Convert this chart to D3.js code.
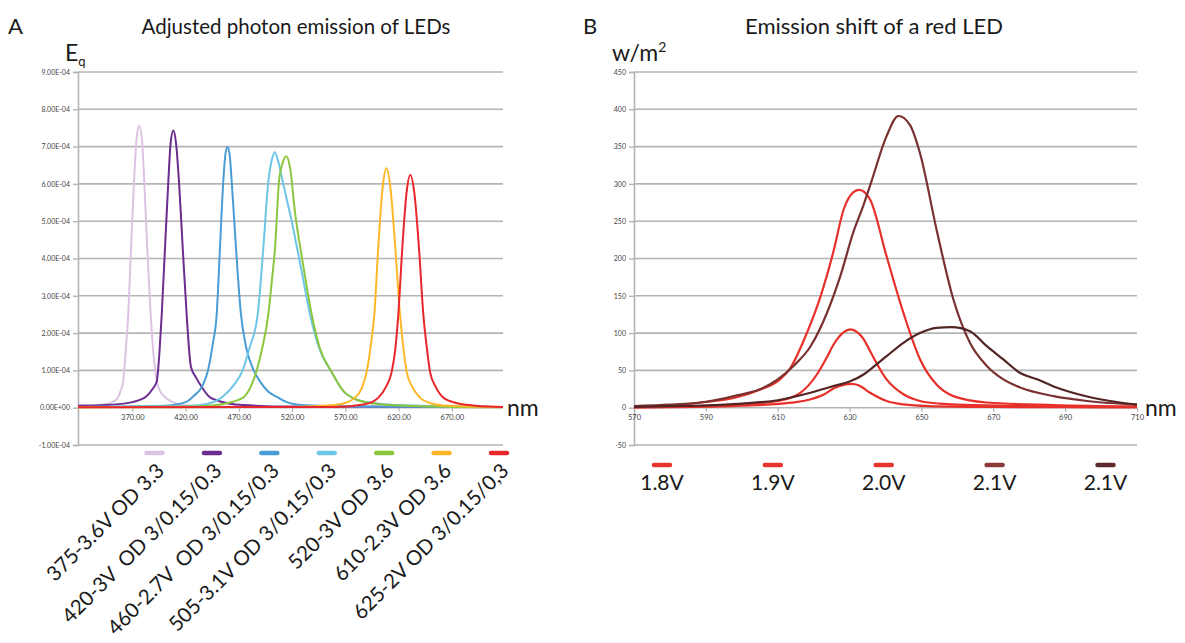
<!DOCTYPE html>
<meta charset="utf-8">
<title>LED emission</title>
<style>
  body { margin: 0; background: #fff; }
  text { font-family: Lato, "Open Sans", sans-serif; fill: #1a1a1a; }
  .tick text { fill: #444; }
</style>
<svg width="1185" height="643"></svg>
<script src="https://d3js.org/d3.v7.min.js"></script>
<script>

// ---- panel A : adjusted photon emission (values in units of 1E-04) ----
var ledLabels = ["375-3.6V OD 3.3", "420-3V  OD 3/0.15/0.3", "460-2.7V  OD 3/0.15/0.3",
                 "505-3.1V OD 3/0.15/0.3", "520-3V OD 3.6", "610-2.3V OD 3.6", "625-2V OD 3/0.15/0,3"];
var ledColors = ["#dcc3e3", "#6b2d8f", "#4a9dd4", "#6ec6e6", "#8cc63f", "#fdb728", "#e8262b"];

var led375 = [[319,0.07],[335,0.07],[345,0.09],[351,0.15],[356,0.25],[359,0.45],[361.5,0.71],[364,1.6],[366.2,2.5],[368.8,4.29],[371.6,6.07],[374,7.2],[376.5,7.56],[379,7.2],[381.2,6.07],[384,4.29],[387.2,2.5],[390,1.4],[392.9,0.71],[396,0.45],[400,0.3],[408,0.15],[417,0.07],[450,0.03],[550,0.02],[718,0.02]];
var led420 = [[319,0.05],[350,0.08],[370,0.15],[383,0.3],[389,0.5],[393,0.71],[395.5,1.5],[397.6,2.5],[400.7,4.29],[403.8,6.07],[406,7.1],[408.5,7.43],[411,7.1],[413.8,6.07],[417.3,4.29],[421,2.5],[425,1.1],[430,0.8],[436,0.52],[442,0.3],[449,0.2],[474,0.07],[520,0.03],[718,0.02]];
var led460 = [[319,0.02],[400,0.05],[420,0.15],[427,0.3],[436,0.6],[441,1.0],[445.5,1.7],[449.2,2.5],[452.3,4.29],[455.4,6.07],[457.4,6.8],[459.3,6.99],[461.3,6.8],[463.3,6.07],[467.3,4.29],[472,2.5],[477,1.6],[484,1.0],[490,0.7],[497,0.45],[505,0.3],[515,0.15],[530,0.07],[570,0.03],[718,0.02]];
var led505 = [[319,0.02],[420,0.04],[440,0.1],[455,0.3],[465,0.6],[473.6,1.0],[480,1.6],[487.7,2.5],[493,4.29],[497.7,6.07],[501,6.65],[503.7,6.85],[507,6.6],[511.7,6.0],[519.6,5.0],[529,3.65],[536.8,2.5],[546,1.55],[557,0.96],[568,0.45],[580,0.22],[595,0.13],[620,0.07],[660,0.04],[718,0.02]];
var led520 = [[319,0.01],[430,0.03],[455,0.1],[474,0.27],[481,0.55],[486.8,1.0],[492,1.6],[497.7,2.5],[501,3.4],[504,4.29],[507.7,6.07],[511,6.55],[514.5,6.74],[518,6.45],[522.7,5.25],[530.5,3.8],[538.4,2.5],[546,1.6],[557,0.96],[568,0.45],[580,0.22],[600,0.1],[640,0.04],[718,0.01]];
var led610 = [[319,0.01],[520,0.02],[560,0.07],[572,0.15],[579,0.27],[585,0.5],[590,0.96],[594,1.7],[597.2,2.5],[600.9,4.29],[605,5.9],[608.6,6.42],[612.3,5.9],[616.9,4.29],[621.3,2.5],[624.5,1.6],[627.6,0.96],[633,0.55],[640,0.27],[650,0.12],[662,0.06],[690,0.03],[718,0.02]];
var led625 = [[319,0.01],[560,0.02],[585,0.08],[595,0.15],[601,0.27],[608,0.55],[613.5,0.96],[617,1.6],[619.7,2.5],[623.5,4.29],[627.4,5.75],[631,6.24],[634.8,5.75],[639.1,4.29],[643.2,2.5],[646.5,1.6],[649.5,0.96],[655,0.55],[662,0.27],[675,0.12],[690,0.06],[703,0.03],[718,0.02]];
var ledSeries = [led375, led420, led460, led505, led520, led610, led625];

var ticksA = [-1, 0, 1, 2, 3, 4, 5, 6, 7, 8, 9];
var nmTicksA = [370, 420, 470, 520, 570, 620, 670];

// ---- panel B : red LED at several voltages (w/m2) ----
var voltLabels = ["1.8V", "1.9V", "2.0V", "2.1V", "2.1V"];
var voltColors = ["#e8302a", "#e8302a", "#e8302a", "#7a3131", "#532424"];
var legendColorsB = ["#e8352c", "#e8352c", "#e8352c", "#8c3b3b", "#5d2b2b"];

var red18 = [[570,0.5],[580,0.8],[590,1.3],[600,2.8],[610,5],[615,7.5],[619,11],[623,18],[625.6,26],[628.3,30.5],[630.5,32],[632.5,30],[635.7,20],[640.3,9],[645,4.4],[652,2.2],[670,1],[690,0.6],[710,0.5]];
var red19 = [[570,0.5],[580,1],[590,2],[600,4.5],[610,9],[616.3,20],[620.9,44.5],[623.5,66],[625.6,85],[628.3,101],[630.3,105],[632.2,101],[633.9,92],[635.7,76],[640.3,38],[645,18],[649.6,9],[655,5.5],[660,4],[675,2.5],[690,1.5],[710,1]];
var red20 = [[570,1],[580,3],[590,7.6],[597.8,13],[605.2,24.5],[610,35.6],[613.5,53],[618.1,100],[621.9,149],[625.6,211],[628.3,265],[631.1,289],[632.7,292],[635.7,279],[640.3,203],[645,127],[649.6,65],[654.2,31],[658.9,15.5],[668.2,7],[686.8,3.5],[710,1.5]];
var red21a = [[570,2],[580,4],[590,8],[597.8,15.6],[605.2,25],[610,38],[614.4,56],[619.1,82],[623.7,127],[627.4,176],[631.1,236],[633.9,272],[636,302],[640.3,364],[643.6,391],[646.8,379],[649.6,341],[654.2,239],[658.9,145],[663.5,87],[668.2,56],[672.8,38],[677.5,27],[686.8,15.5],[696.1,9],[710,4]];
var red21b = [[570,1],[580,2],[590,3],[600,5.5],[610,10],[619.1,20],[625.6,29],[630,35],[633.9,44.5],[635.7,51],[640.3,69],[645,87],[649.6,100],[654.2,107],[658.4,108],[663.5,102.6],[668.2,82.5],[672.8,64.7],[677.5,46.5],[682.2,38],[686.8,28.5],[691.4,21],[696.1,15],[705.3,7],[710,4]];
var voltSeries = [red18, red19, red20, red21a, red21b];

var ticksB = [-50, 0, 50, 100, 150, 200, 250, 300, 350, 400, 450];
var nmTicksB = [570, 590, 610, 630, 650, 670, 690, 710];

var svg = d3.select("svg");
var gridColor = "#b4b4b4";

function drawPanel(o) {
    var g = svg.append("g");
    var x0 = o.x.range()[0], x1 = o.x.range()[1];

    // gridlines (incl. the zero line that acts as the x axis)
    g.append("g").selectAll("line")
        .data(o.yTicks)
        .enter().append("line")
        .attr("x1", x0).attr("x2", x1)
        .attr("y1", function(d) { return o.y(d); })
        .attr("y2", function(d) { return o.y(d); })
        .attr("stroke", gridColor).attr("stroke-width", 1.6);

    var ya = g.append("g")
        .attr("transform", "translate(" + x0 + ",0)")
        .call(d3.axisLeft(o.y).tickValues(o.yTicks).tickSize(5).tickPadding(3).tickFormat(o.yFormat));
    ya.select(".domain").attr("stroke", gridColor).attr("stroke-width", 1.6);
    ya.selectAll(".tick line").attr("stroke", gridColor).attr("stroke-width", 1.4);
    ya.selectAll(".tick text").style("font-size", "7px");

    var xa = g.append("g")
        .attr("transform", "translate(0," + o.y(0) + ")")
        .call(d3.axisBottom(o.x).tickValues(o.xTicks).tickSize(4).tickPadding(3).tickFormat(o.xFormat));
    xa.select(".domain").remove();
    xa.selectAll(".tick line").attr("stroke", gridColor).attr("stroke-width", 1.2);
    xa.selectAll(".tick text").style("font-size", "7.5px");

    var line = d3.line()
        .x(function(d) { return o.x(d[0]); })
        .y(function(d) { return o.y(d[1]); })
        .curve(d3.curveMonotoneX);

    g.append("g").selectAll("path")
        .data(o.series)
        .enter().append("path")
        .attr("d", line)
        .attr("fill", "none")
        .attr("stroke", function(d, i) { return o.colors[i]; })
        .attr("stroke-width", o.lineWidth);
    return g;
}

// ---------- panel A ----------
var xA = d3.scaleLinear().domain([319, 718]).range([78, 503]);
var yA = d3.scaleLinear().domain([-1, 9]).range([445, 72]);

drawPanel({
    x: xA, y: yA, yTicks: ticksA, xTicks: nmTicksA,
    yFormat: function(d) { return d === 0 ? "0.00E+00" : d.toFixed(2) + "E-04"; },
    xFormat: function(d) { return d.toFixed(2); },
    series: ledSeries, colors: ledColors, lineWidth: 2
});

svg.append("text").attr("x", 8).attr("y", 34).style("font-size", "22px").text("A");
svg.append("text").attr("x", 296).attr("y", 34).attr("text-anchor", "middle")
    .style("font-size", "20.5px").text("Adjusted photon emission of LEDs");
var eq = svg.append("text").attr("x", 65).attr("y", 61).style("font-size", "23px");
eq.append("tspan").text("E");
eq.append("tspan").attr("dy", 5).style("font-size", "13px").text("q");
svg.append("text").attr("x", 507).attr("y", 416).style("font-size", "23px").text("nm");

var legA = d3.scalePoint().domain(d3.range(ledLabels.length)).range([154.5, 499]);
svg.append("g").selectAll("line")
    .data(ledLabels)
    .enter().append("line")
    .attr("x1", function(d, i) { return legA(i) - 8; })
    .attr("x2", function(d, i) { return legA(i) + 8; })
    .attr("y1", 453).attr("y2", 453)
    .attr("stroke", function(d, i) { return ledColors[i]; })
    .attr("stroke-width", 4.5).attr("stroke-linecap", "round");
svg.append("g").selectAll("text")
    .data(ledLabels)
    .enter().append("text")
    .attr("transform", function(d, i) { return "translate(" + (legA(i) + 11) + ",472) rotate(-45)"; })
    .attr("text-anchor", "end")
    .style("white-space", "pre")
    .style("font-size", "20.5px")
    .text(function(d) { return d; });

// ---------- panel B ----------
var xB = d3.scaleLinear().domain([570, 710]).range([634, 1137]);
var yB = d3.scaleLinear().domain([-50, 450]).range([445, 72]);

drawPanel({
    x: xB, y: yB, yTicks: ticksB, xTicks: nmTicksB,
    yFormat: function(d) { return d; },
    xFormat: function(d) { return d; },
    series: voltSeries, colors: voltColors, lineWidth: 2.2
});

svg.append("text").attr("x", 583).attr("y", 34).style("font-size", "22px").text("B");
svg.append("text").attr("x", 874).attr("y", 34).attr("text-anchor", "middle")
    .style("font-size", "22px").text("Emission shift of a red LED");
var wm = svg.append("text").attr("x", 612).attr("y", 61).style("font-size", "23px");
wm.append("tspan").text("w/m");
wm.append("tspan").attr("dy", -9).style("font-size", "14px").text("2");
svg.append("text").attr("x", 1145).attr("y", 416).style("font-size", "23px").text("nm");

var legB = d3.scalePoint().domain(d3.range(voltLabels.length)).range([662, 1105.5]);
svg.append("g").selectAll("line")
    .data(voltLabels)
    .enter().append("line")
    .attr("x1", function(d, i) { return legB(i) - 8; })
    .attr("x2", function(d, i) { return legB(i) + 8; })
    .attr("y1", 465).attr("y2", 465)
    .attr("stroke", function(d, i) { return legendColorsB[i]; })
    .attr("stroke-width", 4.5).attr("stroke-linecap", "round");
svg.append("g").selectAll("text")
    .data(voltLabels)
    .enter().append("text")
    .attr("x", function(d, i) { return legB(i); })
    .attr("y", 490)
    .attr("text-anchor", "middle")
    .style("font-size", "21px")
    .text(function(d) { return d; });

</script>
